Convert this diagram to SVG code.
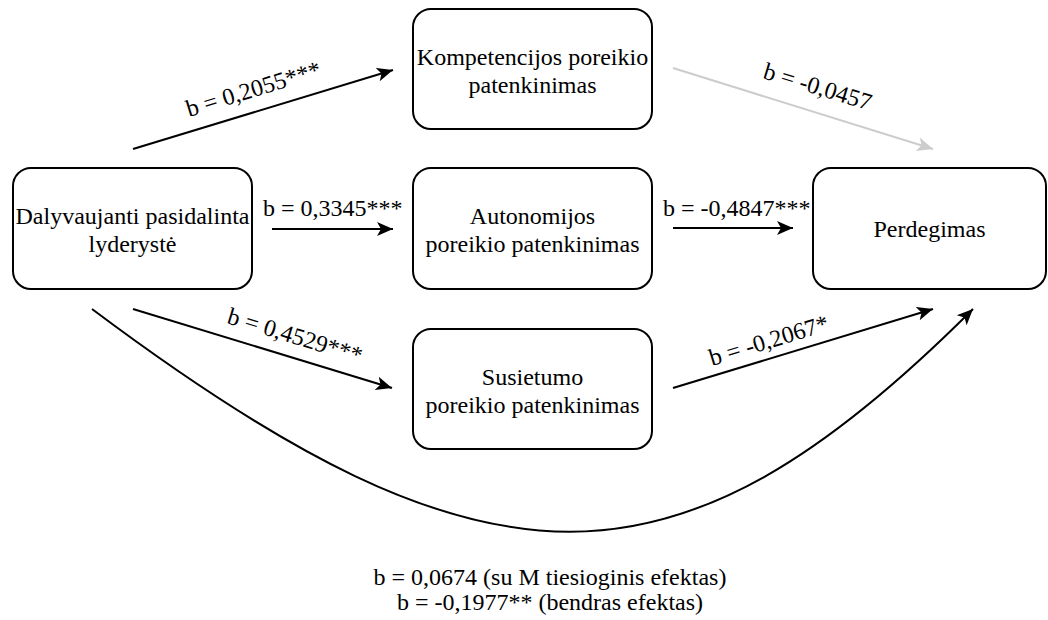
<svg xmlns="http://www.w3.org/2000/svg" width="1048" height="620" viewBox="0 0 1048 620">
<style>
.box{fill:#fff;stroke:#000;stroke-width:2}
.e{fill:none;stroke:#000;stroke-width:2}
.g{fill:none;stroke:#ccc;stroke-width:2}
text{font-family:'Liberation Serif','Times New Roman',Times,serif;font-size:24px;fill:#000}
.c{text-anchor:middle}
</style>
<defs>
<marker id="ab" markerUnits="userSpaceOnUse" markerWidth="20" markerHeight="16" viewBox="0 -8 20 16" refX="16" refY="0" orient="auto">
<path d="M0,-7 L16,0 L0,7 L4,0 Z" fill="#000"/>
</marker>
<marker id="ag" markerUnits="userSpaceOnUse" markerWidth="20" markerHeight="16" viewBox="0 -8 20 16" refX="16" refY="0" orient="auto">
<path d="M0,-7 L16,0 L0,7 L4,0 Z" fill="#ccc"/>
</marker>
</defs>
<g id="connectors" font-family="Liberation Serif, Times New Roman, serif" font-size="24">
<line class="e" x1="133" y1="149" x2="393" y2="70" marker-end="url(#ab)"/>
<line class="g" x1="673" y1="68" x2="933" y2="149" marker-end="url(#ag)"/>
<line class="e" x1="272" y1="229" x2="393" y2="229" marker-end="url(#ab)"/>
<line class="e" x1="673" y1="228" x2="793" y2="228" marker-end="url(#ab)"/>
<line class="e" x1="133" y1="309" x2="392" y2="388" marker-end="url(#ab)"/>
<line class="e" x1="673" y1="388" x2="933" y2="309" marker-end="url(#ab)"/>
<path class="e" d="M92,309 C488,606 676,606 973,309" marker-end="url(#ab)"/>
<text transform="translate(189,117) rotate(-17)">b = 0,2055***</text>
<text transform="translate(762,78) rotate(17)">b = -0,0457</text>
<text x="263" y="216">b = 0,3345***</text>
<text x="663" y="216">b = -0,4847***</text>
<text transform="translate(226,323) rotate(17)">b = 0,4529***</text>
<text transform="translate(712,366) rotate(-17)">b = -0,2067*</text>
<text class="c" x="550" y="585">b = 0,0674 (su M tiesioginis efektas)</text>
<text class="c" x="550" y="610">b = -0,1977** (bendras efektas)</text>
</g>
<g id="n-lyderyste" font-family="Liberation Serif, Times New Roman, serif" font-size="24">
<rect class="box" x="13" y="168" width="239" height="121" rx="18"/>
<text class="c" x="132.5" y="224">Dalyvaujanti pasidalinta</text>
<text class="c" x="132.5" y="252">lyderystė</text>
</g>
<g id="n-kompetencijos" font-family="Liberation Serif, Times New Roman, serif" font-size="24">
<rect class="box" x="413" y="9" width="239" height="120" rx="18"/>
<text class="c" x="532.5" y="65">Kompetencijos poreikio</text>
<text class="c" x="532.5" y="93">patenkinimas</text>
</g>
<g id="n-autonomijos" font-family="Liberation Serif, Times New Roman, serif" font-size="24">
<rect class="box" x="413" y="168" width="239" height="121" rx="18"/>
<text class="c" x="532.5" y="224">Autonomijos</text>
<text class="c" x="532.5" y="252">poreikio patenkinimas</text>
</g>
<g id="n-susietumo" font-family="Liberation Serif, Times New Roman, serif" font-size="24">
<rect class="box" x="413" y="329" width="239" height="120" rx="18"/>
<text class="c" x="532.5" y="385">Susietumo</text>
<text class="c" x="532.5" y="413">poreikio patenkinimas</text>
</g>
<g id="n-perdegimas" font-family="Liberation Serif, Times New Roman, serif" font-size="24">
<rect class="box" x="813" y="168" width="233" height="121" rx="18"/>
<text class="c" x="929.5" y="237">Perdegimas</text>
</g>
</svg>
